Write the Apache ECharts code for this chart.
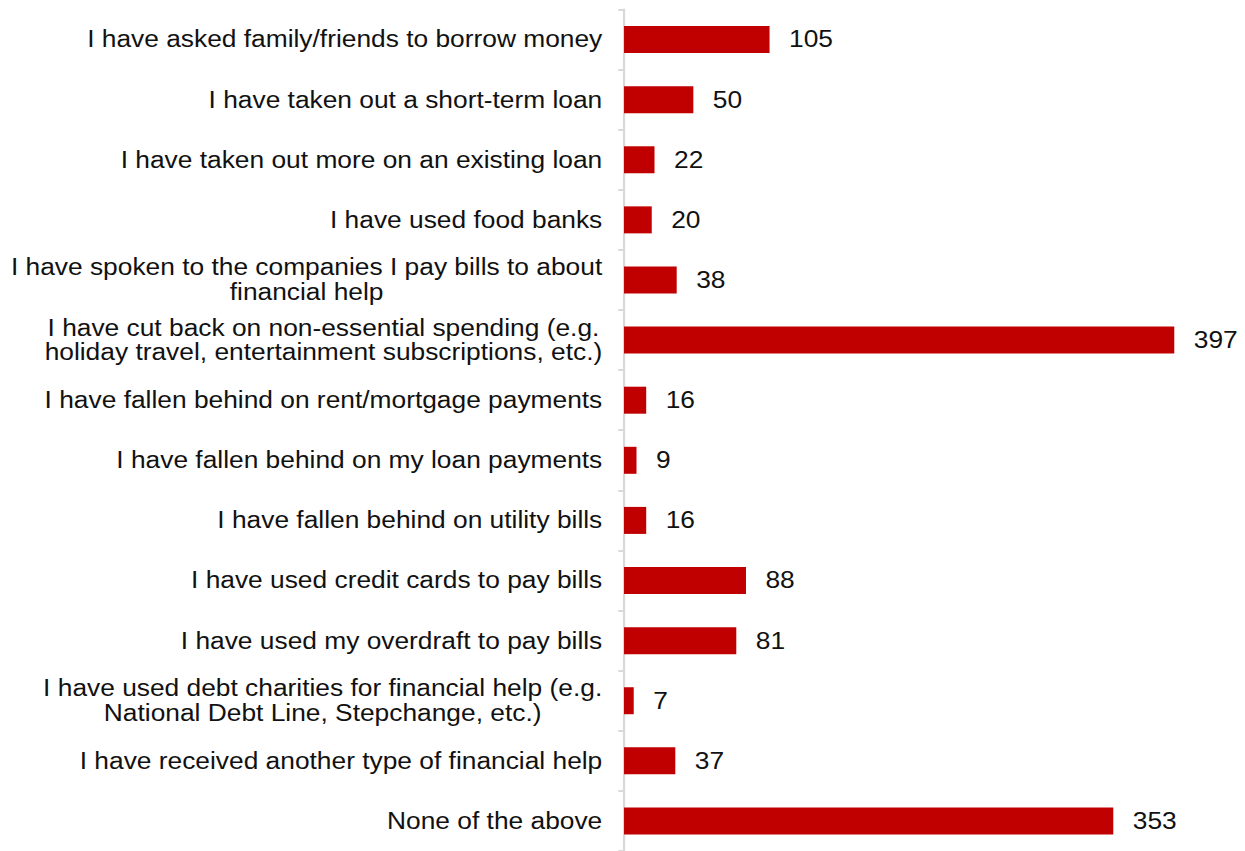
<!DOCTYPE html>
<html>
<head>
<meta charset="utf-8">
<script src="https://cdn.jsdelivr.net/npm/echarts@6/dist/echarts.min.js"></script>
<style>
  html, body { margin: 0; padding: 0; background: #fff; overflow: hidden; }
  #wrap { width: 1245px; height: 851px; overflow: hidden; }
  /* The chart is laid out narrower and stretched horizontally so the
     Arial-style lettering gets its wide proportions. */
  #chart { width: 1088px; height: 851px; transform: scaleX(1.145); transform-origin: 0 0; }
</style>
</head>
<body>
<div id="wrap"><div id="chart"></div></div>
<script>
const categories = [
  'I have asked family/friends to borrow money',
  'I have taken out a short-term loan',
  'I have taken out more on an existing loan',
  'I have used food banks',
  'I have spoken to the companies I pay bills to about\nfinancial help',
  'I have cut back on non-essential spending (e.g.\nholiday travel, entertainment subscriptions, etc.)',
  'I have fallen behind on rent/mortgage payments',
  'I have fallen behind on my loan payments',
  'I have fallen behind on utility bills',
  'I have used credit cards to pay bills',
  'I have used my overdraft to pay bills',
  'I have used debt charities for financial help (e.g.\nNational Debt Line, Stepchange, etc.)',
  'I have received another type of financial help',
  'None of the above'
];
const responses = [105, 50, 22, 20, 38, 397, 16, 9, 16, 88, 81, 7, 37, 353];

const FONT = '"Liberation Sans", Arial, sans-serif';
const TEXT = '#111111';
const RED = '#c00000';

const chart = echarts.init(document.getElementById('chart'), null, { renderer: 'svg' });

chart.setOption({
  animation: false,
  backgroundColor: '#ffffff',
  grid: { left: 545, top: 9.5, width: 484.2, height: 844, containLabel: false },
  xAxis: {
    type: 'value',
    min: 0,
    max: 400,
    show: false
  },
  yAxis: {
    type: 'category',
    data: categories,
    inverse: true,
    axisLine: { show: true, lineStyle: { color: '#d9d9d9', width: 2 } },
    axisTick: { show: true, length: 5, lineStyle: { color: '#d9d9d9', width: 2 } },
    splitLine: { show: false },
    axisLabel: {
      margin: 19,
      align: 'right',
      fontFamily: FONT,
      fontSize: 23,
      color: TEXT,
      lineHeight: 25,
      formatter: function (v) {
        if (v.indexOf('\n') < 0) return v;
        // multi-line labels have their lines centred on each other
        return v.split('\n').map(function (l) { return '{c|' + l + '}'; }).join('\n');
      },
      rich: {
        c: { align: 'center', fontFamily: FONT, fontSize: 23, color: TEXT, lineHeight: 25 }
      }
    }
  },
  series: [{
    type: 'bar',
    data: responses,
    barWidth: 27,
    itemStyle: { color: RED },
    label: {
      show: true,
      position: 'right',
      distance: 17,
      fontFamily: FONT,
      fontSize: 23,
      color: TEXT
    }
  }]
});
</script>
</body>
</html>
